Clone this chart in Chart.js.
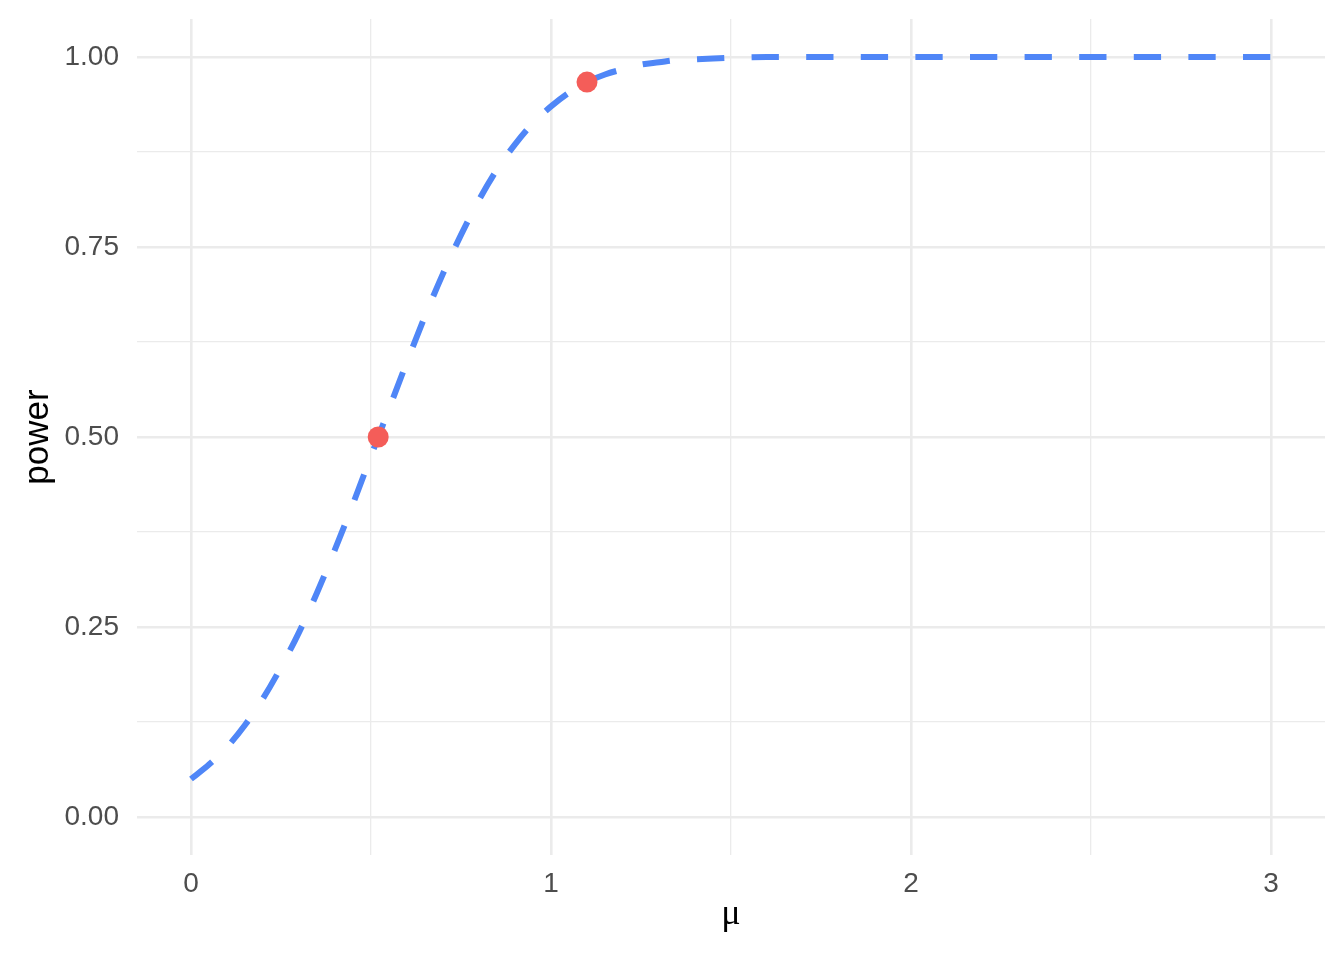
<!DOCTYPE html>
<html>
<head>
<meta charset="utf-8">
<script src="https://cdn.jsdelivr.net/npm/chart.js@4"></script>
<style>
	html, body { margin: 0; padding: 0; background: #ffffff; }
	canvas { display: block; }
</style>
</head>
<body>
<canvas id="myChart" width="1344" height="960"></canvas>
<script>
// power curve
let muValues = [0.00, 0.05, 0.10, 0.15, 0.20, 0.25, 0.30, 0.35, 0.40, 0.45,
	0.50, 0.55, 0.60, 0.65, 0.70, 0.75, 0.80, 0.85, 0.90, 0.95,
	1.00, 1.05, 1.10, 1.15, 1.20, 1.25, 1.30, 1.35, 1.40, 1.45,
	1.50, 1.60, 2.00, 2.50, 3.00];
let powerValues = [0.050, 0.069, 0.092, 0.121, 0.156, 0.197, 0.243, 0.295, 0.352, 0.412,
	0.475, 0.537, 0.599, 0.659, 0.715, 0.766, 0.812, 0.852, 0.885, 0.913,
	0.935, 0.953, 0.967, 0.977, 0.984, 0.990, 0.993, 0.996, 0.997, 0.998,
	0.999, 1.000, 1.000, 1.000, 1.000];

// highlighted points
let markMu = [0.52, 1.10];
let markPower = [0.500, 0.967];

// grid / tick values
let xGrid = [0, 0.5, 1, 1.5, 2, 2.5, 3];
let xLabels = [0, 1, 2, 3];
let yGrid = [0, 0.125, 0.25, 0.375, 0.5, 0.625, 0.75, 0.875, 1];
let yLabels = [0, 0.25, 0.5, 0.75, 1];

let fontFamily = "'Liberation Sans', Arial, sans-serif";

function toPoints(xs, ys) {
	let arr = [];
	for (let i = 0; i < xs.length; i++) {
		arr.push({x: xs[i], y: ys[i]});
	}
	return arr;
}

function isMajor(list, v) {
	return list.some((t) => Math.abs(t - v) < 1e-9);
}

let ctx = document.getElementById('myChart').getContext('2d');
let chart = new Chart(ctx, {
	type: 'line',
	data: {
		datasets: [{
			data: toPoints(markMu, markPower),
			showLine: false,
			pointRadius: 10.5,
			pointBackgroundColor: '#F45D59',
			pointBorderWidth: 0,
			order: 0
		}, {
			data: toPoints(muValues, powerValues),
			borderColor: '#4F86F7',
			borderWidth: 6,
			borderDash: [27.3, 27.3],
			borderCapStyle: 'butt',
			pointRadius: 0,
			cubicInterpolationMode: 'monotone',
			fill: false,
			order: 1
		}]
	},
	options: {
		responsive: false,
		devicePixelRatio: 1,
		animation: false,
		layout: { padding: { left: 0, right: 19, top: 19, bottom: 0 } },
		plugins: {
			legend: { display: false },
			tooltip: { enabled: false }
		},
		scales: {
			x: {
				type: 'linear',
				min: -0.15,
				max: 3.15,
				afterBuildTicks: (scale) => { scale.ticks = xGrid.map((v) => ({value: v})); },
				afterFit: (scale) => { scale.height = 105; },
				grid: {
					color: '#EBEBEB',
					lineWidth: (c) => isMajor(xLabels, c.tick.value) ? 2.6 : 1.3,
					drawTicks: false
				},
				border: { display: false },
				ticks: {
					padding: 12,
					autoSkip: false,
					maxRotation: 0,
					color: '#4D4D4D',
					font: { family: fontFamily, size: 28 },
					callback: (v) => isMajor(xLabels, v) ? String(v) : ''
				},
				title: {
					display: true,
					text: 'μ',
					color: '#000000',
					font: { family: "'Liberation Serif', 'Times New Roman', serif", size: 36 },
					padding: { top: 0, bottom: 24 }
				}
			},
			y: {
				type: 'linear',
				min: -0.05,
				max: 1.05,
				afterBuildTicks: (scale) => { scale.ticks = yGrid.map((v) => ({value: v})); },
				afterFit: (scale) => {
					scale.width = 137;
					// labels sit well inside the range, no extra room needed
					scale.paddingTop = 0;
					scale.paddingBottom = 0;
				},
				grid: {
					color: '#EBEBEB',
					lineWidth: (c) => isMajor(yLabels, c.tick.value) ? 2.6 : 1.3,
					drawTicks: false
				},
				border: { display: false },
				ticks: {
					padding: 18,
					autoSkip: false,
					color: '#4D4D4D',
					font: { family: fontFamily, size: 28 },
					callback: (v) => isMajor(yLabels, v) ? v.toFixed(2) : ''
				},
				title: {
					display: true,
					text: 'power',
					color: '#000000',
					font: { family: fontFamily, size: 35 },
					padding: { top: 17, bottom: 0 }
				}
			}
		}
	}
});
</script>
</body>
</html>
